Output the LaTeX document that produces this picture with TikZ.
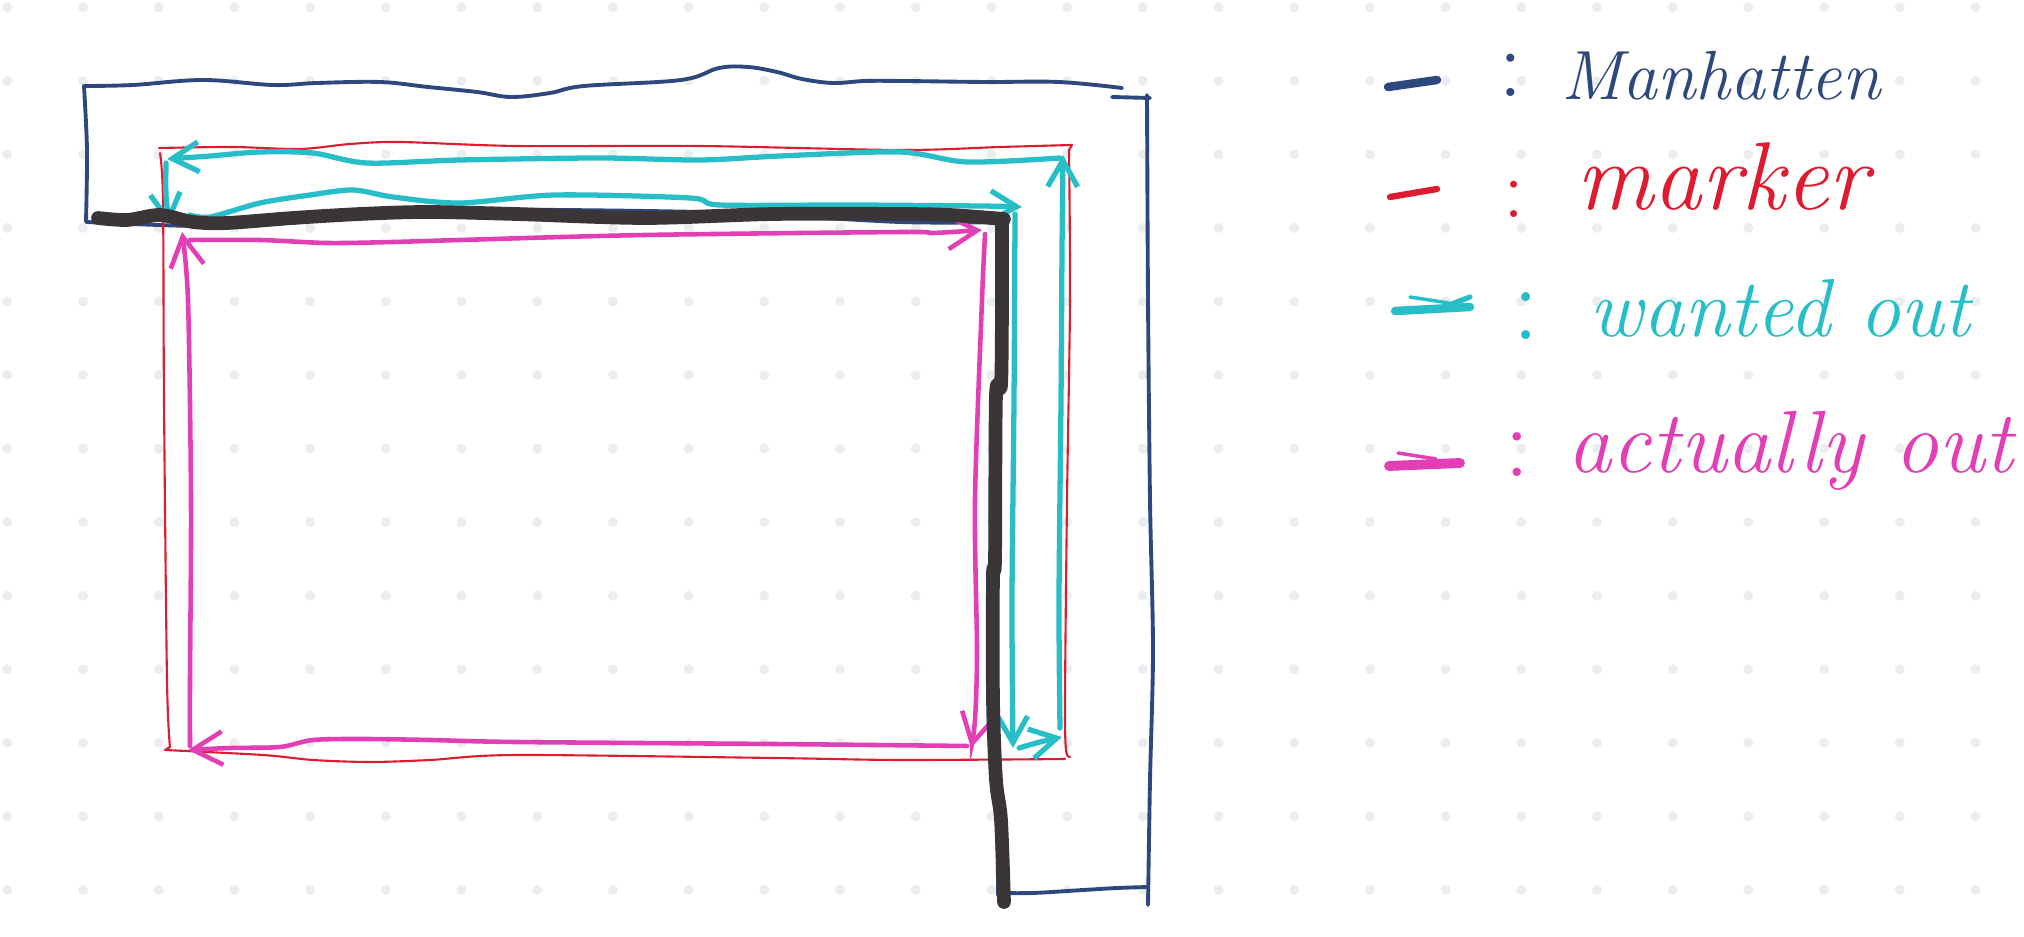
\documentclass[tikz,border=0pt]{standalone}
\usetikzlibrary{arrows.meta}

\definecolor{manblue}{RGB}{46,72,126}
\definecolor{markred}{RGB}{222,28,48}
\definecolor{wantcyan}{RGB}{40,190,200}
\definecolor{actpink}{RGB}{226,62,182}
\definecolor{inkblack}{RGB}{58,54,55}
\definecolor{dotgray}{RGB}{234,238,240}

\tikzset{
  manhattan/.style={draw=manblue, line width=1.1pt, line cap=round, line join=round},
  markerline/.style={draw=markred, line width=0.6pt, line cap=round, line join=round},
  wanted/.style={draw=wantcyan, line width=1.5pt, line cap=round,
    -{Straight Barb[length=7.5pt, width=8.5pt]}},
  actual/.style={draw=actpink, line width=1.3pt, line cap=round,
    -{Straight Barb[length=8.5pt, width=9.5pt]}},
  route/.style={draw=inkblack, line width=3.9pt, line cap=round, line join=round},
  legtext/.style={anchor=base west, inner sep=0pt},
  colon/.style={anchor=base, inner sep=0pt},
}

\begin{document}
\begin{tikzpicture}[x=0.01cm, y=-0.01cm]
    \useasboundingbox (0,0) rectangle (2024,937);
    \fill[white] (0,0) rectangle (2024,937);

    % dotted paper
    \foreach \i in {0,...,26}
        \foreach \j in {0,...,12}
            \fill[dotgray] ({7.3+75.7*\i},{7.3+73.55*\j}) circle[radius=5];

    % manhattan outline
    \draw[manhattan] plot[smooth, tension=.6] coordinates {(1122,88) (1059,82) (986,82) (904,81) (865,81) (833,83) (802,79) (777,72) (748,67) (719,68) (681,80) (584,86) (550,93) (511,97) (477,92) (428,87) (380,82) (317,83) (273,85) (203,80) (133,85) (84,86)}
        -- plot[smooth, tension=.5] coordinates {(84,86) (87,150) (86,222)}
        -- plot[smooth, tension=.5] coordinates {(86,222) (200,226) (300,222) (400,210) (700,212) (900,222) (998,222)}
        -- plot[smooth, tension=.5] coordinates {(998,222) (997,400) (992,460) (991,560) (997,810) (998,895)};
    \draw[manhattan] plot[smooth, tension=.5] coordinates {(998,893) (1033,893) (1083,890) (1117,888) (1148,887)};
    \draw[manhattan] plot[smooth, tension=.5] coordinates {(1148,905) (1150,780) (1153,650) (1150,500) (1148,300) (1147,95)};
    \draw[manhattan] (1112,97) -- (1150,98);

    % marker
    \draw[markerline] plot[smooth, tension=.5] coordinates {(159,148) (233,147) (300,149) (350,144) (400,142) (516,146) (700,146) (900,150) (1000,147) (1072,145)}
        -- plot[smooth, tension=.5] coordinates {(1069,150) (1070,300) (1067,500) (1065,700) (1066,750) (1070,757)};
    \draw[markerline] plot[smooth, tension=.5] coordinates {(1065,759) (900,760) (774,758) (516,755) (430,760) (370,762) (313,760) (263,755) (165,750)}
        -- plot[smooth, tension=.5] coordinates {(170,747) (167,680) (164,400) (163,200) (160,153)};

    % wanted out
    \draw[wanted] plot[smooth, tension=.5] coordinates {(1060,158) (967,162) (900,152) (780,156) (700,160) (600,158) (460,160) (367,163) (313,153) (260,152) (210,156) (167,159)};
    \draw[wanted] plot[smooth, tension=.5] coordinates {(166,163) (166,195) (169,225)};
    \draw[wanted] plot[smooth, tension=.5] coordinates {(190,215) (210,217) (260,203) (310,195) (353,190) (393,197) (460,203) (555,195) (690,198) (720,205) (850,205) (980,206) (1022,207)};
    \draw[wanted] plot[smooth, tension=.5] coordinates {(1015,214) (1014,400) (1012,600) (1013,748)};
    \draw[wanted] plot[smooth, tension=.5] coordinates {(1019,748) (1040,742) (1062,737)};
    \draw[wanted] plot[smooth, tension=.5] coordinates {(1060,728) (1059,600) (1061,400) (1062,250) (1063,155)};

    % actually out
    \draw[actual] plot[smooth, tension=.5] coordinates {(190,240) (260,240) (327,243) (393,242) (460,240) (645,235) (903,232) (933,233) (982,230)};
    \draw[actual] plot[smooth, tension=.5] coordinates {(985,234) (982,300) (975,500) (977,650) (975,720) (971,748)};
    \draw[actual] plot[smooth, tension=.5] coordinates {(967,746) (774,744) (516,742) (430,740) (363,739) (313,740) (280,747) (230,748) (188,750)};
    \draw[actual] plot[smooth, tension=.5] coordinates {(190,746) (190,680) (191,500) (188,300) (182,232)};

    % the route
    \draw[route] plot[smooth, tension=.5] coordinates {(98,218) (127,220) (160,215) (193,222) (227,223) (293,218) (360,214) (427,212) (516,214) (645,218) (774,214) (903,214) (950,215) (1004,219)}
        -- plot[smooth, tension=.5] coordinates {(1002,222) (1002,300) (1001,385) (996,395) (995,560) (993,575) (993,700) (996,780) (1001,820) (1004,902)};

    % legend
    \draw[manblue, line width=2.4pt, line cap=round] (1388,87) -- (1437,80);
    \node[colon, text=manblue, font=\fontsize{28}{30}\selectfont] (cmanh) at (1511,97) {:};
    \node[legtext, text=manblue, font=\fontsize{19.8}{24}\selectfont\itshape] (lmanh) at (1561,100) {Manhatten};

    \draw[markred, line width=1.8pt, line cap=round] (1390,197) -- (1437,189);
    \node[colon, text=markred, font=\fontsize{24}{26}\selectfont] (cmark) at (1514,218) {:};
    \node[legtext, text=markred, font=\fontsize{27.4}{30}\selectfont\itshape] (lmark) at (1576,210) {marker};

    \draw[wantcyan, line width=2.4pt, line cap=round] (1395,311) -- (1470,307);
    \draw[wantcyan, line width=1pt, line cap=round] (1410,297) -- (1449,303);
    \draw[wantcyan, line width=1.5pt, line cap=round] (1449,305) -- (1470,297);
    \node[colon, text=wantcyan, font=\fontsize{31}{33}\selectfont] (cwant) at (1526,340) {:};
    \node[legtext, text=wantcyan, font=\fontsize{23.4}{26}\selectfont\itshape] (lwant) at (1589,337) {wanted out};

    \draw[actpink, line width=2.8pt, line cap=round] (1389,466) -- (1460,463);
    \draw[actpink, line width=1pt, line cap=round] (1398,453) -- (1436,459);
    \node[colon, text=actpink, font=\fontsize{29}{31}\selectfont] (cact) at (1517,477) {:};
    \node[legtext, text=actpink, font=\fontsize{25.1}{28}\selectfont\itshape] (lact) at (1567,473) {actually out};
\end{tikzpicture}
\end{document}
